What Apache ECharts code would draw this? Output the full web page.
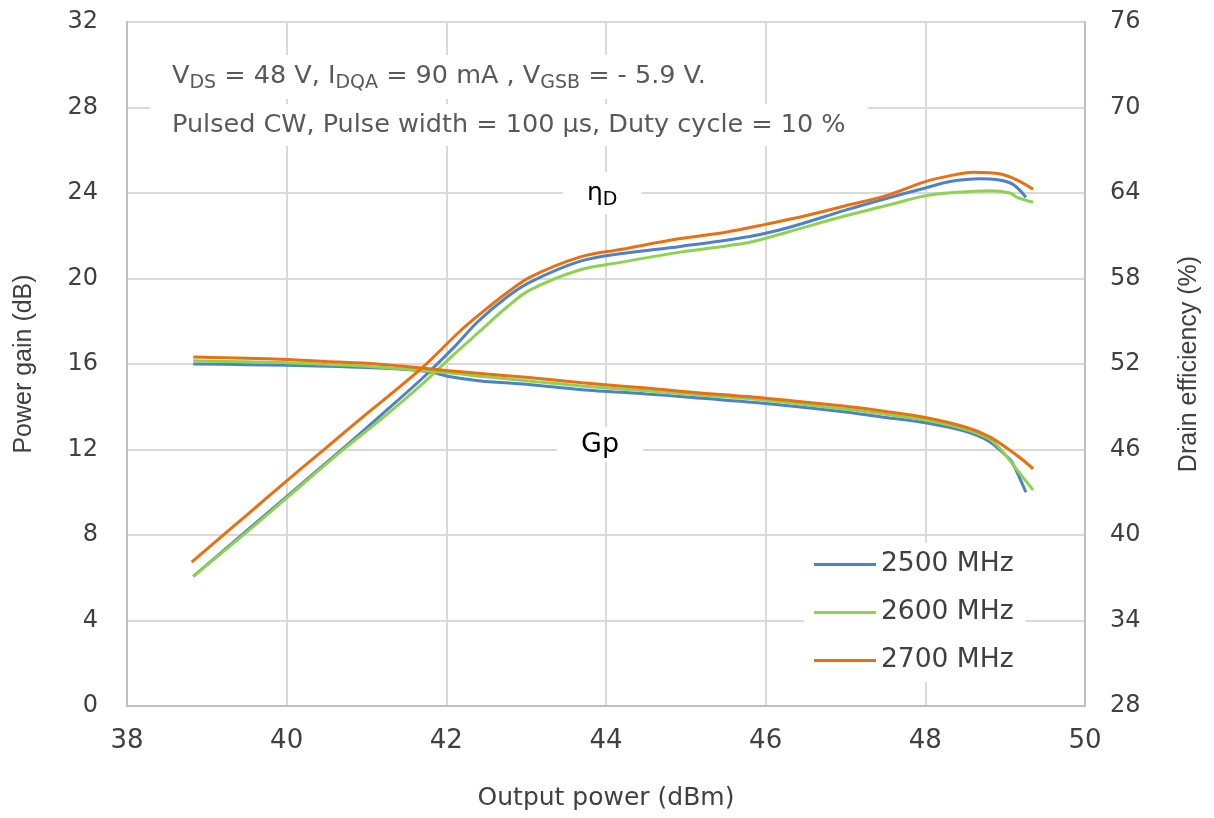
<!DOCTYPE html>
<html>
<head>
<meta charset="utf-8">
<script src="https://cdn.jsdelivr.net/npm/echarts@6/dist/echarts.min.js"></script>
<style>
  html, body { margin: 0; padding: 0; background: #fff; }
  #chart { width: 1214px; height: 818px; }
</style>
</head>
<body>
<div id="chart"></div>
<script>
// series names (legend)
const freqs = ['2500 MHz', '2600 MHz', '2700 MHz']
const colors = ['#4f81c7', '#8fd150', '#e8700f']

// power gain (dB) vs output power (dBm), [Pout, Gp]
const gain2500 = [[38.83, 16.0], [39.5, 15.97], [40, 15.94], [40.5, 15.9], [41, 15.84], [41.5, 15.74], [41.8, 15.62], [42.05, 15.4], [42.4, 15.22], [43, 15.05], [43.7, 14.8], [44.5, 14.6], [45, 14.46], [46, 14.15], [47, 13.75], [47.5, 13.5], [48, 13.25], [48.5, 12.85], [48.8, 12.38], [49.0, 11.75], [49.08, 11.45], [49.26, 10.0]]
const gain2600 = [[38.83, 16.15], [39.5, 16.1], [40, 16.06], [40.5, 15.98], [41, 15.9], [41.5, 15.76], [42, 15.6], [42.5, 15.4], [43, 15.22], [43.7, 14.97], [44.5, 14.75], [45, 14.6], [46, 14.3], [47, 13.88], [47.5, 13.65], [48, 13.38], [48.5, 12.95], [48.8, 12.5], [48.97, 11.9], [49.15, 11.04], [49.35, 10.1]]
const gain2700 = [[38.83, 16.33], [39.5, 16.27], [40, 16.21], [40.5, 16.12], [41, 16.03], [41.5, 15.88], [42, 15.7], [42.5, 15.53], [43, 15.38], [43.7, 15.12], [44.5, 14.88], [45, 14.7], [46, 14.4], [47, 14.02], [47.5, 13.78], [48, 13.5], [48.5, 13.05], [48.8, 12.6], [49.02, 12.07], [49.19, 11.6], [49.35, 11.1]]

// drain efficiency (%) vs output power (dBm), [Pout, eta]
const eff2500 = [[38.83, 37.1], [39.5, 40.3], [40, 42.7], [40.67, 45.9], [41.2, 48.5], [41.7, 51.0], [42.1, 53.2], [42.4, 55.0], [42.76, 56.7], [43.05, 57.75], [43.67, 59.2], [44.2, 59.75], [44.93, 60.25], [45.8, 60.95], [46.3, 61.6], [47, 62.8], [47.5, 63.6], [48, 64.35], [48.31, 64.8], [48.69, 65.0], [49.06, 64.72], [49.26, 63.7]]
const eff2600 = [[38.83, 37.1], [39.5, 40.2], [40, 42.6], [40.7, 45.96], [41.2, 48.2], [41.7, 50.6], [42.1, 52.7], [42.42, 54.3], [42.76, 56.0], [43.05, 57.2], [43.67, 58.6], [44.2, 59.15], [44.93, 59.85], [45.8, 60.55], [46.3, 61.3], [47, 62.4], [47.5, 63.1], [48, 63.8], [48.4, 64.05], [48.81, 64.16], [49.06, 64.0], [49.15, 63.7], [49.35, 63.35]]
const eff2700 = [[38.81, 38.1], [39.5, 41.4], [40, 43.8], [40.46, 45.96], [41, 48.5], [41.67, 51.6], [42.17, 54.3], [42.42, 55.5], [42.76, 57.0], [43.05, 58.1], [43.67, 59.5], [44.2, 60.05], [44.93, 60.8], [45.5, 61.25], [46, 61.8], [46.5, 62.4], [47, 63.1], [47.5, 63.8], [48, 64.8], [48.3, 65.2], [48.6, 65.45], [48.94, 65.33], [49.15, 64.9], [49.35, 64.26]]

// axis ticks
const xTicks = { min: 38, max: 50, step: 2 }
const gainTicks = { min: 0, max: 32, step: 4 }
const effTicks = { min: 28, max: 76, step: 6 }

const font = '"Liberation Sans", Arial, sans-serif'
const wide = '"DejaVu Sans", Verdana, sans-serif'
const gainSeries = [gain2500, gain2600, gain2700]
const effSeries = [eff2500, eff2600, eff2700]

let series = []
freqs.forEach((name, i) => {
  series.push({
    name: name,
    type: 'line',
    yAxisIndex: 0,
    data: gainSeries[i],
    smooth: 0.3,
    showSymbol: false,
    symbol: 'none',
    lineStyle: { width: 3, color: colors[i] },
    itemStyle: { color: colors[i] },
    z: 3 + i
  })
})
freqs.forEach((name, i) => {
  series.push({
    name: name,
    type: 'line',
    yAxisIndex: 1,
    data: effSeries[i],
    smooth: 0.35,
    showSymbol: false,
    symbol: 'none',
    lineStyle: { width: 3, color: colors[i] },
    itemStyle: { color: colors[i] },
    z: 3 + i
  })
})

let axisLineStyle = { show: true, lineStyle: { color: '#bfbfbf', width: 2 } }
let splitLineStyle = { show: true, lineStyle: { color: '#d9d9d9', width: 2 } }

let options = {
  animation: false,
  backgroundColor: '#fff',
  grid: {
    left: 127,
    right: 129,
    top: 22,
    bottom: 112
  },
  legend: {
    data: freqs,
    orient: 'vertical',
    left: 804,
    top: 543,
    padding: [8, 12, 8, 10],
    backgroundColor: '#fff',
    icon: 'rect',
    itemWidth: 62,
    itemHeight: 3,
    itemGap: 21,
    textStyle: { fontFamily: wide, fontSize: 26.5, color: '#404040' }
  },
  xAxis: {
    type: 'value',
    min: xTicks.min,
    max: xTicks.max,
    interval: xTicks.step,
    name: 'Output power (dBm)',
    nameLocation: 'middle',
    nameGap: 80,
    nameTextStyle: { fontFamily: wide, fontSize: 25, color: '#404040' },
    axisLine: axisLineStyle,
    axisTick: { show: false },
    axisLabel: {
      fontFamily: wide,
      fontSize: 26,
      color: '#404040',
      margin: 22,
      rich: { t: { fontFamily: wide, fontSize: 26, color: '#404040' } },
      formatter: v => '{t|' + v + '}'
    },
    splitLine: splitLineStyle
  },
  yAxis: [
    {
      type: 'value',
      min: gainTicks.min,
      max: gainTicks.max,
      interval: gainTicks.step,
      name: 'Power gain (dB)',
      nameLocation: 'middle',
      nameGap: 90,
      nameTextStyle: { fontFamily: font, fontSize: 25, color: '#404040' },
      axisLine: axisLineStyle,
      axisTick: { show: false },
      axisLabel: { fontFamily: wide, fontSize: 24, color: '#404040', margin: 29 },
      splitLine: splitLineStyle
    },
    {
      type: 'value',
      min: effTicks.min,
      max: effTicks.max,
      interval: effTicks.step,
      name: 'Drain efficiency (%)',
      nameLocation: 'middle',
      nameGap: 92,
      nameTextStyle: { fontFamily: font, fontSize: 25, color: '#404040' },
      axisLine: axisLineStyle,
      axisTick: { show: false },
      axisLabel: { fontFamily: wide, fontSize: 24, color: '#404040', margin: 25 },
      splitLine: { show: false }
    }
  ],
  graphic: [
    {
      type: 'text',
      left: 150,
      top: 55,
      z: 5,
      style: {
        text: 'V{s|DS} = 48 V, I{s|DQA} = 90 mA , V{s|GSB} = - 5.9 V.',
        fontFamily: wide,
        fontSize: 25.5,
        fill: '#595959',
        lineHeight: 34,
        backgroundColor: '#fff',
        padding: [4, 22, 6, 22],
        rich: {
          s: { fontFamily: wide, fontSize: 19, fill: '#595959', verticalAlign: 'bottom' }
        }
      }
    },
    {
      type: 'text',
      left: 150,
      top: 104,
      z: 5,
      style: {
        text: 'Pulsed CW, Pulse width = 100 μs, Duty cycle = 10 %',
        fontFamily: wide,
        fontSize: 25.5,
        fill: '#595959',
        lineHeight: 34,
        backgroundColor: '#fff',
        padding: [4, 22, 4, 22]
      }
    },
    {
      type: 'text',
      left: 563,
      top: 172,
      z: 5,
      style: {
        text: 'η{s|D}',
        fontFamily: wide,
        fontSize: 25,
        fill: '#000',
        backgroundColor: '#fff',
        lineHeight: 34,
        padding: [4, 24, 4, 24],
        rich: {
          s: { fontFamily: wide, fontSize: 19, fill: '#000', verticalAlign: 'bottom' }
        }
      }
    },
    {
      type: 'text',
      left: 557,
      top: 427,
      z: 5,
      style: {
        text: 'Gp',
        fontFamily: wide,
        fontSize: 27,
        fill: '#000',
        backgroundColor: '#fff',
        padding: [4, 24, 4, 24]
      }
    }
  ],
  series: series
}

let myChart = echarts.init(document.getElementById('chart'))
myChart.setOption(options)
</script>
</body>
</html>
